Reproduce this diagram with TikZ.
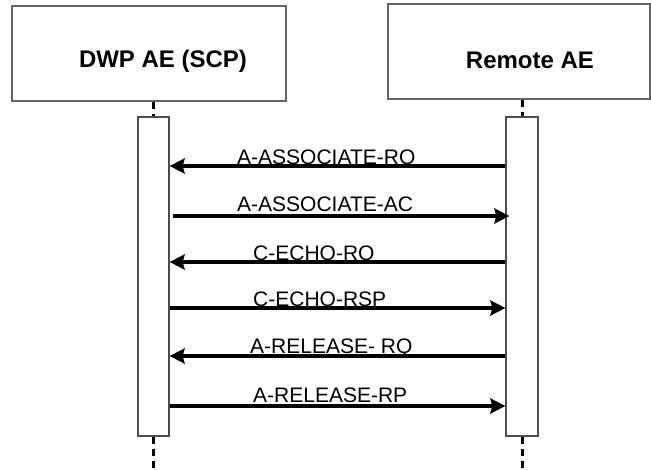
\documentclass[tikz,border=0pt]{standalone}
\usepackage{fontspec}
\setmainfont{Liberation Sans}
\usetikzlibrary{arrows.meta,positioning}
\tikzset{
    entidad/.style={rectangle,draw=black!60,line width=1.2pt,fill=none,minimum height=95pt,inner sep=0pt},
    titulo/.style={font=\fontsize{24}{28}\selectfont\bfseries,anchor=base,inner sep=0pt},
    activacion/.style={rectangle,draw=black!70,line width=1.2pt,fill=none,minimum height=319pt,inner sep=0pt},
    vida/.style={draw,line width=3pt,dash pattern=on 7pt off 5pt},
    flecha/.style={draw,line width=3.5pt,->,>={Stealth[length=15pt,width=15pt,inset=2pt]}},
    mensaje/.style={font=\fontsize{21}{25}\selectfont,anchor=base west,inner sep=0pt},
}
\begin{document}
\begin{tikzpicture}[x=1pt,y=-1pt]
    \useasboundingbox (0,0) rectangle (651,469);

    \node [entidad,minimum width=274pt] (dwp) at (149,53.5) {};
    \node [titulo] (tdwp) at (163,67) {DWP AE (SCP)};
    \node [entidad,minimum width=262pt] (remoto) at (519,51.5) {};
    \node [titulo] (tremoto) at (530,68) {Remote AE};

    \node [activacion,minimum width=31pt] (actL) at (153.5,276.5) {};
    \node [activacion,minimum width=32pt] (actR) at (522,276.5) {};

    \coordinate (fin) at (0,469);
    \path [vida] (actL.north |- dwp.south) -- (actL.north);
    \path [vida] (actR.north |- remoto.south) -- (actR.north);
    \path [vida] (actL.south) -- (actL.south |- fin);
    \path [vida] (actR.south) -- (actR.south |- fin);

    \coordinate (m1) at (0,166);
    \coordinate (m2) at (0,216);
    \coordinate (m3) at (0,262);
    \coordinate (m4) at (0,308);
    \coordinate (m5) at (0,356);
    \coordinate (m6) at (0,406);
    \path [flecha] (actR.west |- m1) -- (actL.east |- m1);
    \path [flecha] ([xshift=3pt]actL.east |- m2) -- ([xshift=4pt]actR.west |- m2);
    \path [flecha] (actR.west |- m3) -- (actL.east |- m3);
    \path [flecha] (actL.east |- m4) -- (actR.west |- m4);
    \path [flecha] (actR.west |- m5) -- (actL.east |- m5);
    \path [flecha] (actL.east |- m6) -- (actR.west |- m6);

    \node [mensaje] (l1) at (237,164) {A-ASSOCIATE-RQ};
    \node [mensaje] (l2) at (237,211) {A-ASSOCIATE-AC};
    \node [mensaje] (l3) at (253,260) {C-ECHO-RQ};
    \node [mensaje] (l4) at (253,306) {C-ECHO-RSP};
    \node [mensaje] (l5) at (250,353) {A-RELEASE- RQ};
    \node [mensaje] (l6) at (253,402) {A-RELEASE-RP};
\end{tikzpicture}
\end{document}
